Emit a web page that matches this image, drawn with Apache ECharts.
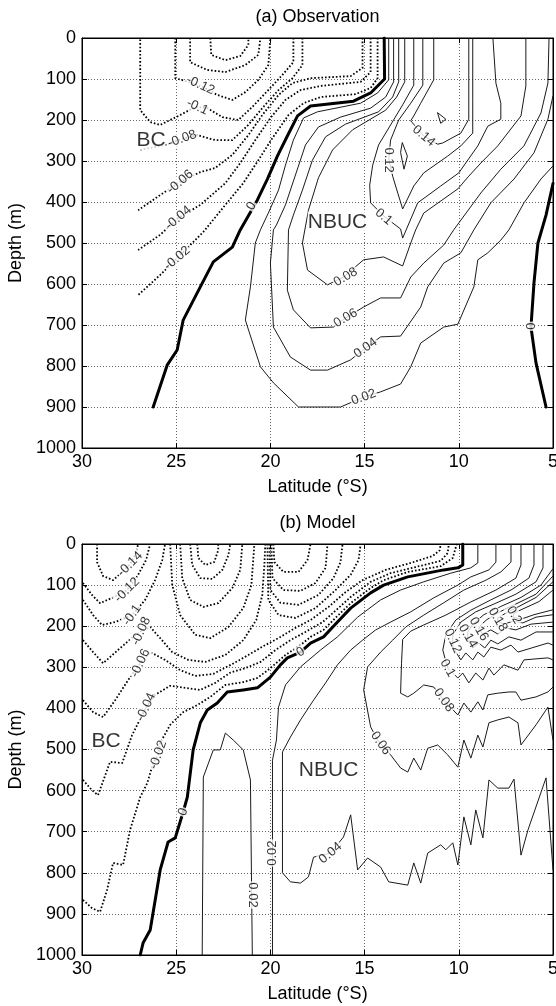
<!DOCTYPE html>
<html><head><meta charset="utf-8">
<script src="https://cdn.jsdelivr.net/npm/echarts@6/dist/echarts.min.js"></script>
<style>html,body{margin:0;padding:0;background:#fff}#c{width:556px;height:1006px}</style>
</head><body><div id="c"></div>
<script>
// ---------- axes ----------
const latTicks = [30, 25, 20, 15, 10, 5];
const depthTicks = [0, 100, 200, 300, 400, 500, 600, 700, 800, 900, 1000];
const panelTitles = ['(a) Observation', '(b) Model'];

// ---------- (a) Observation: contours [lat, depth] ----------
const obsZeroW = [[13.96,0],[13.94,100],[14.68,134],[15.59,154],[17.87,166],[18.56,190],[19.10,239],[19.63,288],[20.16,344],[20.69,395],[21.60,468],[22.02,510],[23.03,546],[23.72,607],[24.63,688],[24.95,761],[25.48,798],[26.22,900]];
const obsZeroE = [[5.0,355],[5.37,432],[5.80,500],[6.01,598],[6.17,705],[5.90,793],[5.37,900]];
const obs002 = [[13.72,0],[13.72,102],[14.31,134],[15.21,159],[17.50,180],[18.24,195],[18.78,249],[19.20,310],[19.57,371],[20.11,427],[20.53,468],[20.80,500],[21.06,607],[21.33,688],[20.53,802],[19.84,841],[18.51,900],[16.28,900],[15.05,876],[14.15,863],[13.09,844],[12.55,802],[12.02,744],[10.80,705],[10.05,698],[9.20,607],[8.99,541],[8.46,524],[7.77,493],[7.34,468],[6.54,402],[5.64,344],[5.0,312]];
const obs004 = [[13.46,0],[13.46,107],[13.88,144],[14.68,171],[16.28,193],[17.45,217],[18.14,261],[18.67,334],[19.20,407],[19.68,456],[19.84,468],[20.0,549],[19.84,705],[18.94,778],[17.87,810],[16.97,810],[15.74,785],[14.95,756],[14.15,729],[13.09,727],[12.02,656],[11.65,607],[10.80,549],[9.89,524],[9.20,468],[8.30,402],[7.07,344],[6.01,280],[5.27,198],[5.0,141]];
const obs006 = [[13.19,0],[13.19,107],[13.51,144],[14.26,180],[16.01,210],[17.07,241],[17.77,298],[18.30,371],[18.78,432],[19.04,468],[19.10,615],[18.78,663],[17.87,707],[16.65,705],[16.01,683],[15.05,656],[14.15,634],[13.09,634],[12.55,583],[11.86,549],[10.80,505],[10.27,468],[8.83,378],[7.77,320],[6.54,263],[5.64,183],[5.27,110],[5.21,0]];
const obs008 = [[12.87,0],[12.87,107],[13.30,144],[13.88,176],[15.64,224],[16.70,273],[17.45,341],[17.98,420],[18.30,500],[18.03,566],[16.97,602],[16.12,583],[15.05,541],[13.99,534],[12.98,556],[12.55,500],[12.29,468],[11.86,427],[10.05,368],[9.47,337],[8.83,305],[7.93,263],[6.70,190],[6.44,117],[6.44,0]];
const obs010 = [[12.39,0],[12.39,115],[12.98,163],[13.62,212],[14.26,261],[14.57,310],[14.73,359],[14.68,402],[13.99,434],[13.09,466],[12.98,488],[12.18,402],[10.96,361],[10.0,329],[8.99,263],[8.46,215],[7.77,198],[7.77,159],[8.03,110],[8.19,0]];
const obs012 = [[11.91,0],[11.91,115],[12.55,159],[13.19,200],[13.62,249],[13.72,295],[13.51,337],[13.24,378],[12.98,417],[12.39,361],[11.86,329],[10.59,288],[9.89,263],[9.26,232],[9.26,151],[9.26,0]];
const obs014 = [[11.33,0],[11.33,102],[12.02,159],[12.39,190],[12.55,202],[11.86,239],[11.12,259],[10.85,256],[9.89,232],[9.47,198],[9.47,0]];
const obs014Loop = [[13.0,255],[12.73,288],[12.91,320],[13.09,279],[13.0,255]];
const obs016Loop = [[11.13,182],[10.69,198],[10.96,208],[11.13,182]];
const obsN002 = [[14.31,0],[14.31,98],[14.68,122],[15.48,137],[17.34,144],[18.24,159],[19.04,188],[19.89,244],[20.64,298],[21.44,354],[22.39,407],[23.56,473],[24.95,537],[25.85,578],[27.02,627]];
const obsN004 = [[14.68,0],[14.68,83],[15.21,107],[17.34,117],[18.40,127],[19.20,151],[20.0,195],[20.80,249],[21.60,305],[22.39,354],[23.72,407],[24.89,439],[25.85,480],[27.02,517]];
const obsN006 = [[15.11,0],[15.11,73],[15.74,93],[17.87,98],[18.83,110],[19.57,139],[20.43,188],[21.17,237],[22.02,285],[22.93,317],[23.72,327],[24.79,351],[25.85,383],[27.02,420]];
const obsN008 = [[18.30,0],[18.30,66],[18.83,98],[19.57,127],[20.43,171],[21.17,212],[22.02,249],[22.93,249],[23.88,237],[24.68,246],[25.59,261],[26.91,273]];
const obsN010 = [[18.78,0],[18.78,59],[19.36,90],[20.11,127],[20.96,168],[21.70,200],[22.55,193],[23.35,171],[23.99,168],[24.79,188],[25.85,212],[26.38,205],[26.91,176],[26.91,0]];
const obsN012 = [[25.05,0],[25.05,98],[24.36,107],[23.56,120],[22.82,139],[22.02,151],[21.33,132],[20.64,102],[20.11,66],[20.0,0]];
const obsN014 = [[24.26,0],[24.26,59],[23.35,78],[22.39,83],[21.33,66],[20.64,41],[20.53,0]];
const obsN016 = [[23.19,0],[23.14,41],[22.39,54],[21.60,44],[21.17,17],[21.17,0]];
// contour labels: [lat, depth, text, angle]
const obsLabels = [
  [11.86,239,'0.14',-40],[13.72,298,'0.12',-90],[13.99,436,'0.1',-40],[16.01,583,'0.08',30],
  [16.01,683,'0.06',30],[14.95,756,'0.04',35],[15.05,876,'0.02',20],[21.0,410,'0',60],[6.17,703,'0',90],
  [23.72,115,'-0.12',-25],[23.88,168,'-0.1',-25],[24.68,246,'-0.08',20],[24.79,351,'-0.06',40],
  [24.89,439,'-0.04',40],[24.95,537,'-0.02',40]
];
const obsNames = [[26.33,249,'BC'],[16.44,449,'NBUC']];

// ---------- (b) Model ----------
const modZero = [[9.79,0],[9.79,51],[10.05,58],[10.80,63],[12.71,80],[13.99,100],[14.68,119],[15.74,156],[16.44,190],[17.18,226],[17.87,241],[18.40,263],[19.10,277],[19.47,294],[20.0,324],[20.69,350],[21.44,355],[22.29,360],[22.82,387],[23.35,404],[23.72,435],[24.10,501],[24.41,616],[24.63,652],[25.05,715],[25.43,725],[25.85,793],[26.38,939],[26.76,971],[26.91,1000]];
const mod002 = [[8.99,0],[8.99,46],[9.36,58],[10.43,71],[11.86,92],[13.09,112],[14.15,136],[15.37,178],[16.44,226],[17.34,258],[18.40,299],[19.20,343],[19.57,397],[19.68,477],[19.89,526],[19.89,1000]];
const mod002Arch = [[23.62,1000],[23.56,567],[23.03,501],[22.66,501],[22.39,460],[21.97,477],[21.44,501],[21.06,574],[20.96,1000]];
const mod004 = [[8.03,0],[8.03,44],[8.40,63],[9.36,80],[10.05,100],[11.33,131],[12.55,165],[13.62,190],[14.41,209],[15.11,234],[15.74,258],[16.44,294],[17.07,338],[17.71,380],[18.40,428],[18.94,470],[19.36,506],[19.36,800],[18.94,822],[18.40,825],[17.98,810],[17.71,762],[16.81,752],[16.12,713],[15.74,659],[15.37,793],[14.84,764],[14.15,786],[13.72,822],[12.71,830],[12.39,776],[12.02,825],[11.65,752],[10.96,732],[10.69,744],[10.32,727],[10.05,781],[9.73,664],[9.36,732],[9.10,647],[8.72,715],[8.40,574],[7.93,594],[7.34,594],[7.07,572],[6.70,757],[6.33,696],[5.37,569],[5.0,793]];
const mod006 = [[7.23,0],[7.23,44],[7.77,68],[8.56,88],[9.73,112],[10.80,143],[11.86,173],[12.82,202],[13.51,234],[14.15,263],[14.84,299],[15.05,355],[14.68,445],[14.31,477],[13.62,513],[13.09,545],[12.71,555],[12.39,521],[12.02,550],[11.65,497],[11.12,489],[10.59,513],[10.05,543],[9.73,477],[9.36,521],[8.99,465],[8.72,494],[8.40,435],[7.93,428],[7.34,421],[6.86,435],[6.70,489],[5.90,440],[5.27,397],[5.0,477]];
const mod008 = [[6.70,0],[6.70,51],[6.97,83],[8.03,112],[9.36,141],[10.69,173],[11.86,197],[12.55,212],[12.98,232],[13.04,290],[13.09,363],[12.71,372],[12.39,363],[11.86,343],[11.33,348],[10.80,380],[10.05,416],[9.73,387],[9.36,409],[8.99,384],[8.72,404],[8.46,367],[7.93,363],[7.34,360],[6.97,360],[6.70,380],[5.90,372],[5.27,360],[5.0,348]];
const mod010 = [[6.01,0],[6.01,51],[6.28,83],[7.23,112],[8.30,136],[9.36,161],[10.16,185],[10.69,221],[10.85,258],[10.59,302],[10.05,326],[9.79,314],[9.47,338],[9.10,314],[8.72,331],[8.40,302],[8.14,319],[7.61,294],[6.86,307],[6.54,282],[5.27,277],[5.0,282]];
const mod012 = [[5.53,0],[5.53,58],[5.90,92],[6.97,122],[8.03,144],[9.10,165],[9.89,190],[10.32,221],[10.32,251],[9.89,282],[9.63,265],[9.26,282],[8.99,263],[8.67,275],[8.30,251],[7.77,258],[7.23,246],[6.86,263],[5.27,241],[5.0,246]];
const mod014 = [[5.0,60],[5.64,100],[6.70,130],[7.77,152],[8.67,172],[9.26,195],[9.52,214],[9.52,234],[9.26,253],[8.94,241],[8.62,253],[8.30,234],[7.93,243],[7.34,226],[6.70,234],[5.90,214],[5.0,214]];
const mod016 = [[5.0,78],[5.90,122],[6.97,146],[7.87,166],[8.51,184],[8.83,197],[8.94,207],[8.72,219],[8.30,209],[7.93,219],[7.50,204],[6.97,209],[6.17,195],[5.0,190]];
const mod018 = [[5.0,92],[5.90,130],[6.81,152],[7.50,168],[7.93,180],[7.93,188],[7.61,195],[7.13,188],[6.60,192],[5.90,178],[5.0,172]];
const mod020 = [[5.0,112],[5.74,140],[6.60,158],[7.07,168],[7.12,178],[6.70,183],[6.01,172],[5.0,160]];
const modN002 = [[29.95,866],[29.47,886],[29.04,895],[28.67,842],[28.35,776],[27.82,781],[27.45,696],[26.91,616],[26.54,582],[26.22,533],[25.96,513],[25.85,484],[25.32,440],[24.63,409],[23.88,392],[23.19,372],[22.39,343],[21.44,336],[20.69,326],[20.0,302],[19.20,270],[18.40,246],[17.87,226],[17.18,209],[16.44,175],[15.74,144],[14.68,107],[13.99,88],[12.71,68],[10.96,54],[10.32,34],[10.11,0]];
const modN004 = [[29.95,574],[29.47,599],[29.15,611],[28.51,530],[27.87,533],[27.34,465],[26.60,397],[26.12,367],[25.32,345],[24.52,350],[23.72,355],[22.93,338],[22.13,313],[21.33,302],[20.53,287],[19.73,258],[18.94,234],[18.14,214],[17.23,190],[16.44,158],[15.74,129],[14.68,92],[13.62,71],[12.29,56],[10.96,41],[10.59,22],[10.53,0]];
const modN006 = [[29.95,380],[29.41,409],[28.88,421],[28.24,380],[27.55,331],[26.91,290],[26.38,263],[25.59,282],[24.79,307],[23.99,321],[23.03,316],[22.02,292],[21.17,270],[20.43,250],[19.57,229],[18.67,204],[17.87,185],[16.91,153],[16.01,117],[15.11,88],[13.88,63],[12.55,46],[11.38,29],[11.01,15],[10.96,0]];
const modN008 = [[29.95,234],[29.41,263],[28.88,290],[28.09,258],[27.29,226],[26.86,212],[26.38,202],[25.85,229],[25.21,263],[24.36,282],[23.46,287],[22.39,270],[21.44,234],[20.75,185],[20.43,124],[20.32,51],[20.27,0]];
const modN008East = [[20.16,0],[20.11,136],[19.57,173],[18.67,180],[17.61,156],[16.54,112],[15.74,75],[15.32,39],[15.21,0]];
const modN010West = [[29.95,136],[29.41,173],[28.94,197],[28.24,190],[27.71,180],[27.34,173],[26.65,136],[26.12,88],[25.74,39],[25.59,0]];
const modN010Mid = [[25.32,0],[25.21,100],[24.79,173],[23.99,221],[23.19,229],[22.23,202],[21.44,156],[21.01,100],[20.85,0]];
const modN010East = [[20.05,0],[20.0,112],[19.47,143],[18.51,148],[17.45,124],[16.65,83],[16.28,44],[16.17,0]];
const modN012West = [[29.95,95],[29.47,124],[29.04,144],[28.40,131],[27.61,112],[27.02,75],[26.60,39],[26.38,0]];
const modN012Mid = [[24.79,0],[24.68,83],[24.26,136],[23.56,153],[22.77,144],[22.02,107],[21.60,63],[21.49,0]];
const modN012East = [[19.95,0],[19.89,83],[19.31,112],[18.40,114],[17.61,95],[17.07,58],[16.97,0]];
const modN014West = [[29.20,0],[29.20,44],[28.88,78],[28.35,88],[27.87,68],[27.45,49],[27.13,22],[27.02,0]];
const modN014Mid = [[24.26,0],[24.15,51],[23.72,83],[23.09,85],[22.55,63],[22.23,27],[22.13,0]];
const modN014East = [[19.84,0],[19.79,44],[19.31,68],[18.51,68],[18.03,39],[17.87,0]];
const modN016Mid = [[23.88,0],[23.83,34],[23.46,51],[22.98,44],[22.77,15],[22.77,0]];
const modLabels = [
  [7.07,173,'0.2',-60],[7.93,184,'0.18',-60],[8.94,207,'0.16',-60],[9.52,224,'0.14',-60],
  [10.32,236,'0.12',-65],[10.59,302,'0.1',-60],[10.80,380,'0.08',-55],[14.15,485,'0.06',-55],
  [16.81,752,'0.04',40],[20.96,854,'0.02',-90],[19.89,752,'0.02',90],[18.40,263,'0',30],[24.63,652,'0',70],
  [27.45,49,'-0.14',45],[27.61,112,'-0.12',45],[27.34,173,'-0.1',55],[26.86,212,'-0.08',65],
  [26.91,290,'-0.06',65],[26.60,397,'-0.04',65],[25.96,513,'-0.02',70]
];
const modNames = [[28.72,479,'BC'],[16.91,550,'NBUC']];

// contour tables: [level, points]
const obsContours = [[0,obsZeroW],[0,obsZeroE],[0.02,obs002],[0.04,obs004],[0.06,obs006],[0.08,obs008],[0.1,obs010],[0.12,obs012],[0.14,obs014],[0.14,obs014Loop],[0.16,obs016Loop],
  [-0.02,obsN002],[-0.04,obsN004],[-0.06,obsN006],[-0.08,obsN008],[-0.1,obsN010],[-0.12,obsN012],[-0.14,obsN014],[-0.16,obsN016]];
const modContours = [[0,modZero],[0.02,mod002],[0.02,mod002Arch],[0.04,mod004],[0.06,mod006],[0.08,mod008],[0.1,mod010],[0.12,mod012],[0.14,mod014],[0.16,mod016],[0.18,mod018],[0.2,mod020],
  [-0.02,modN002],[-0.04,modN004],[-0.06,modN006],[-0.08,modN008],[-0.08,modN008East],[-0.1,modN010West],[-0.1,modN010Mid],[-0.1,modN010East],
  [-0.12,modN012West],[-0.12,modN012Mid],[-0.12,modN012East],[-0.14,modN014West],[-0.14,modN014Mid],[-0.14,modN014East],[-0.16,modN016Mid]];

// ---------- build ----------
const FONT = 'Liberation Sans';
const grids = [
  {left:82, top:38, width:471, height:410},
  {left:82, top:544, width:471, height:411}
];
const latMin = Math.min(...latTicks), latMax = Math.max(...latTicks), latStep = latTicks[0]-latTicks[1];
const dMin = depthTicks[0], dMax = depthTicks[depthTicks.length-1], dStep = depthTicks[1]-depthTicks[0];

const xAxis = [], yAxis = [];
grids.forEach((g, gi) => {
  const common = {gridIndex:gi, type:'value', min:latMin, max:latMax, interval:latStep, inverse:true};
  xAxis.push(Object.assign({}, common, {
    position:'bottom',
    axisLine:{show:true, onZero:false, lineStyle:{color:'#000', width:1}},
    axisTick:{show:true, inside:true, length:5, lineStyle:{color:'#000'}},
    axisLabel:{color:'#000', fontSize:18, fontFamily:FONT, margin:5, formatter: v => String(v)},
    splitLine:{show:true, lineStyle:{color:'#666', type:[1,2], width:1}},
    name:'Latitude (°S)', nameLocation:'middle', nameGap:30,
    nameTextStyle:{color:'#000', fontSize:18, fontFamily:FONT}
  }));
  xAxis.push(Object.assign({}, common, {
    position:'top',
    axisLine:{show:true, onZero:false, lineStyle:{color:'#000', width:1}},
    axisTick:{show:true, inside:true, length:5, lineStyle:{color:'#000'}},
    axisLabel:{show:false}, splitLine:{show:false}
  }));
  const ycommon = {gridIndex:gi, type:'value', min:dMin, max:dMax, interval:dStep, inverse:true};
  yAxis.push(Object.assign({}, ycommon, {
    position:'left',
    axisLine:{show:true, onZero:false, lineStyle:{color:'#000', width:1}},
    axisTick:{show:true, inside:true, length:5, lineStyle:{color:'#000'}},
    axisLabel:{color:'#000', fontSize:18, fontFamily:FONT, margin:6, formatter: v => String(v)},
    splitLine:{show:true, lineStyle:{color:'#666', type:[1,2], width:1}},
    name:'Depth (m)', nameLocation:'middle', nameGap:52, nameRotate:90,
    nameTextStyle:{color:'#000', fontSize:18, fontFamily:FONT}
  }));
  yAxis.push(Object.assign({}, ycommon, {
    position:'right',
    axisLine:{show:true, onZero:false, lineStyle:{color:'#000', width:1}},
    axisTick:{show:true, inside:true, length:5, lineStyle:{color:'#000'}},
    axisLabel:{show:false}, splitLine:{show:false}
  }));
});

function styleFor(level){
  if (level === 0) return {color:'#000', width:3, type:'solid', join:'round', cap:'round'};
  if (level > 0) return {color:'#1a1a1a', width:1, type:'solid', join:'round'};
  return {color:'#000', width:1.8, type:[1.6,2], join:'round'};
}
const series = [];
[obsContours, modContours].forEach((table, gi) => {
  table.forEach(([lev, pts]) => {
    series.push({type:'line', xAxisIndex:gi*2, yAxisIndex:gi*2, data:pts, symbol:'none', showSymbol:false,
      silent:true, animation:false, lineStyle:styleFor(lev), z: lev===0?4:3});
  });
});
[obsLabels, modLabels].forEach((labs, gi) => {
  series.push({type:'scatter', xAxisIndex:gi*2, yAxisIndex:gi*2, symbolSize:1, silent:true, animation:false, z:10,
    itemStyle:{color:'rgba(0,0,0,0)'},
    label:{show:true, position:'inside', formatter:'{b}', color:'#000', fontSize:13, fontFamily:FONT,
      backgroundColor:'#fff', padding:[0,1]},
    data: labs.map(l => ({name:l[2], value:[l[0], l[1]], label:{rotate:l[3]}}))
  });
});
[obsNames, modNames].forEach((labs, gi) => {
  series.push({type:'scatter', xAxisIndex:gi*2, yAxisIndex:gi*2, symbolSize:1, silent:true, animation:false, z:11,
    itemStyle:{color:'rgba(0,0,0,0)'},
    label:{show:true, position:'inside', formatter:'{b}', color:'#000', fontSize:21, fontFamily:FONT,
      backgroundColor:'#fff', padding:[0,0]},
    data: labs.map(l => ({name:l[2], value:[l[0], l[1]]}))
  });
});

const graphic = grids.map((g, i) => ({
  type:'text', x: g.left + g.width/2, y: g.top - 21, z:20,
  style:{text: panelTitles[i], font:'18px "' + FONT + '"', fill:'#000', textAlign:'center', textVerticalAlign:'middle', verticalAlign:'middle'}
}));

const chart = echarts.init(document.getElementById('c'), null, {renderer:'canvas', width:556, height:1006});
chart.setOption({
  animation:false,
  backgroundColor:'#fff',
  grid: grids.map(g => Object.assign({show:true, borderColor:'#000', borderWidth:1, backgroundColor:'#fff', containLabel:false, outerBoundsMode:'none'}, g)),
  xAxis, yAxis, series, graphic
});
</script>
</body></html>
